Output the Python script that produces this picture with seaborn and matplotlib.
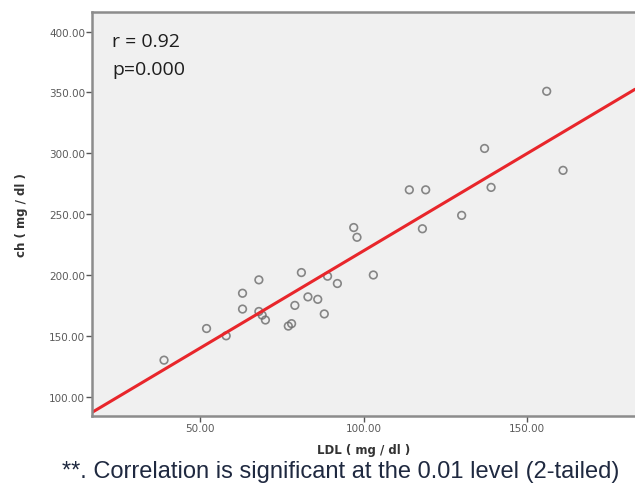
import numpy as np
import pandas as pd
import matplotlib
matplotlib.use("Agg")
import matplotlib.pyplot as plt
import seaborn as sns

# values
ldl = [39, 52, 58, 63, 63, 68, 68, 69, 70, 77, 78, 79, 81, 83, 86,
       88, 89, 92, 97, 98, 103, 114, 118, 119, 130, 137, 139, 156, 161]
ch = [130, 156, 150, 172, 185, 196, 170, 167, 163, 158, 160, 175, 202, 182, 180,
      168, 199, 193, 239, 231, 200, 270, 238, 270, 249, 304, 272, 351, 286]
x_ticks = [50, 100, 150]
y_ticks = [100, 150, 200, 250, 300, 350, 400]

df = pd.DataFrame({"LDL": ldl, "ch": ch})

sns.set_style("white")
plt.rcParams["font.family"] = ["Liberation Sans", "DejaVu Sans"]

fig = plt.figure(figsize=(6.35, 4.89), dpi=100)
ax = fig.add_axes([0.145, 0.147, 0.855, 0.826])
ax.set_facecolor("#f0f0f0")
ax.set_xlim(17, 183)
ax.set_ylim(84, 416)

sns.regplot(data=df, x="LDL", y="ch", ax=ax, ci=None, truncate=False,
            scatter_kws=dict(s=30, facecolors="none", edgecolors="#6b6b6b", linewidths=1.2),
            line_kws=dict(color="#e8262b", lw=2.2))

ax.set_xlim(17, 183)
ax.set_ylim(84, 416)
ax.set_xticks(x_ticks)
ax.set_yticks(y_ticks)
ax.set_xticklabels([f"{v:.2f}" for v in x_ticks], family="DejaVu Sans")
ax.set_yticklabels([f"{v:.2f}" for v in y_ticks], family="DejaVu Sans")
ax.tick_params(axis="both", direction="out", length=4, width=1, color="#555555",
               labelsize=7.5, labelcolor="#5a5a5a", pad=1, left=True, bottom=True)

for side in ["left", "bottom", "top"]:
    ax.spines[side].set_color("#8c8c8c")
    ax.spines[side].set_linewidth(1.8)
ax.spines["right"].set_visible(False)

ax.set_xlabel("LDL ( mg / dl )", fontsize=8.5, fontweight="bold", color="#333333",
              labelpad=7, family="DejaVu Sans")
ax.set_ylabel("ch ( mg / dl )", fontsize=8.5, fontweight="bold", color="#333333",
              labelpad=15, family="DejaVu Sans")

ax.text(0.037, 0.928, "r = 0.92", transform=ax.transAxes, fontsize=14,
        color="#1e1e1e", va="center", family=["Open Sans", "DejaVu Sans"])
ax.text(0.037, 0.859, "p=0.000", transform=ax.transAxes, fontsize=14,
        color="#1e1e1e", va="center", family=["Open Sans", "DejaVu Sans"])

fig.text(0.098, 0.022, "**. Correlation is significant at the 0.01 level (2-tailed)",
         fontsize=17, color="#1f2940", ha="left", va="baseline")

fig.savefig("out.png", dpi=100)
